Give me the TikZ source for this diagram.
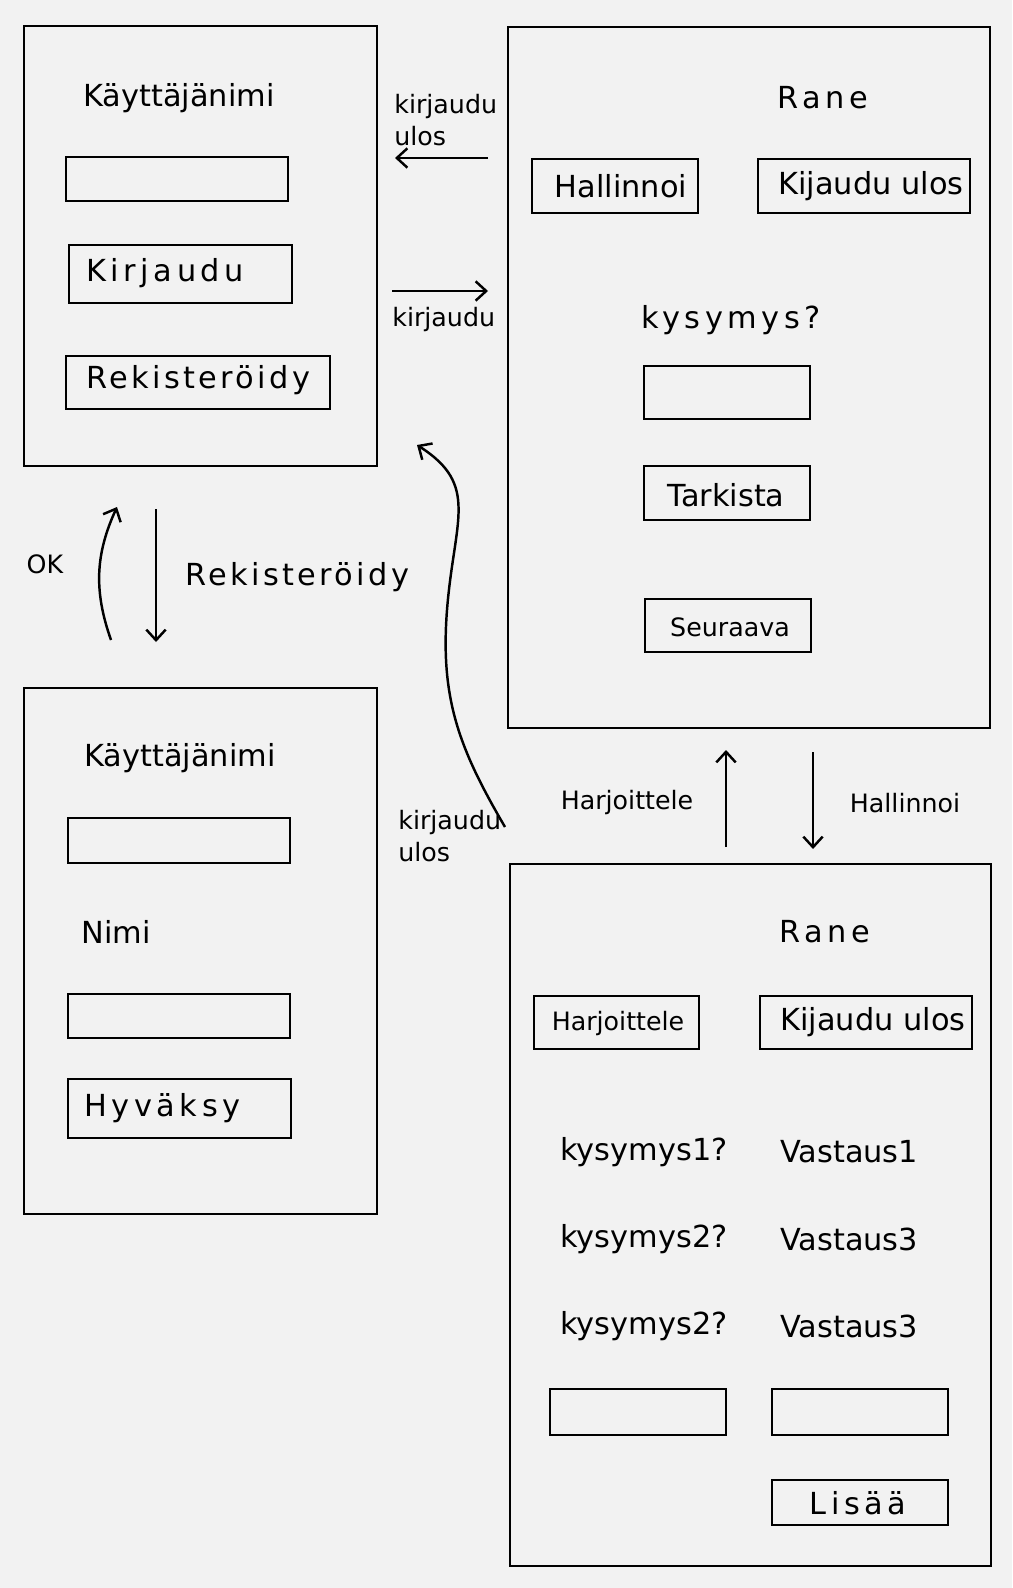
\documentclass[tikz,border=0pt]{standalone}
\usepackage{fontspec}
\newfontfamily\hand{DejaVu Sans}
\newfontfamily\wide[LetterSpace=15]{DejaVu Sans}
\newfontfamily\midwide[LetterSpace=11]{DejaVu Sans}
\usetikzlibrary{fit,arrows.meta}
\definecolor{paper}{RGB}{242,242,242}

\begin{document}
\begin{tikzpicture}[x=0.02cm,y=-0.02cm,
    frame/.style={draw,line width=1.6pt,inner sep=0pt},
    box/.style={draw,line width=1.6pt,inner sep=0pt},
    txt/.style={font=\hand\LARGE,inner sep=0pt},
    wtxt/.style={font=\wide\LARGE,inner sep=0pt},
    lbl/.style={font=\hand\Large,inner sep=0pt,align=left},
    arr/.style={line width=1.4pt,-{Straight Barb[length=6pt,width=11pt]}}]
\fill[paper] (0,0) rectangle (1012,1588);
\useasboundingbox (0,0) rectangle (1012,1588);

\node[frame,fit={(24,26) (377,466)}] (login) {};
\node[txt,anchor=west] (loginUser) at (83,98) {Käyttäjänimi};
\node[box,fit={(66,157) (288,201)}] (loginField) {};
\node[box,fit={(69,245) (292,303)}] (loginBtn) {};
\node[wtxt,anchor=west] at (86,273) {Kirjaudu};
\node[box,fit={(66,356) (330,409)}] (regBtn) {};
\node[wtxt,font=\midwide\LARGE,anchor=west] at (86,380) {Rekisteröidy};

\node[frame,fit={(508,27) (990,728)}] (quiz) {};
\node[wtxt] (quizUser) at (823,98) {Rane};
\node[box,fit={(532,159) (698,213)}] (quizAdmin) {};
\node[txt] at (621,186) {Hallinnoi};
\node[box,fit={(758,159) (970,213)}] (quizOut) {};
\node[txt] at (871,186) {Kijaudu ulos};
\node[wtxt] (question) at (731,320) {kysymys?};
\node[box,fit={(644,366) (810,419)}] (answerField) {};
\node[box,fit={(644,466) (810,520)}] (checkBtn) {};
\node[txt] at (726,495) {Tarkista};
\node[box,fit={(645,599) (811,652)}] (nextBtn) {};
\node[txt,font=\hand\Large] at (730,627) {Seuraava};

\node[frame,fit={(24,688) (377,1214)}] (register) {};
\node[txt,anchor=west] (regUser) at (84,758) {Käyttäjänimi};
\node[box,fit={(68,818) (290,863)}] (regUserField) {};
\node[txt,anchor=west] (regName) at (81,932) {Nimi};
\node[box,fit={(68,994) (290,1038)}] (regNameField) {};
\node[box,fit={(68,1079) (291,1138)}] (acceptBtn) {};
\node[wtxt,anchor=west] at (84,1108) {Hyväksy};

\node[frame,fit={(510,864) (991,1566)}] (admin) {};
\node[wtxt] (adminUser) at (825,932) {Rane};
\node[box,fit={(534,996) (699,1049)}] (adminPractice) {};
\node[txt,font=\hand\Large] at (618,1024) {Harjoittele};
\node[box,fit={(760,996) (972,1049)}] (adminOut) {};
\node[txt] at (873,1022) {Kijaudu ulos};
\node[txt,anchor=west] (q1) at (560,1152) {kysymys1?};
\node[txt,anchor=west] (a1) at (780,1152) {Vastaus1};
\node[txt,anchor=west] (q2) at (560,1239) {kysymys2?};
\node[txt,anchor=west] (a2) at (780,1239) {Vastaus3};
\node[txt,anchor=west] (q3) at (560,1326) {kysymys2?};
\node[txt,anchor=west] (a3) at (780,1326) {Vastaus3};
\node[box,fit={(550,1389) (726,1435)}] (newQuestion) {};
\node[box,fit={(772,1389) (948,1435)}] (newAnswer) {};
\node[box,fit={(772,1480) (948,1525)}] (addBtn) {};
\node[wtxt] at (858,1503) {Lisää};

\coordinate (outA) at (488,158);
\coordinate (outB) at (395,158);
\coordinate (inA) at (392,291);
\coordinate (inB) at (488,291);
\coordinate (okA) at (111,640);
\coordinate (okB) at (117,507);
\coordinate (regA) at (156,509);
\coordinate (regB) at (156,642);
\coordinate (backA) at (505,827);
\coordinate (backM) at (447,610);
\coordinate (backB) at (417,445);
\coordinate (practA) at (726,847);
\coordinate (practB) at (726,750);
\coordinate (adminA) at (813,752);
\coordinate (adminB) at (813,849);

\draw[arr] (outA) -- (outB);
\draw[arr] (inA) -- (inB);
\draw[arr] (okA) to[bend left=22] (okB);
\draw[arr] (regA) -- (regB);
\draw[arr] (backA) .. controls (460,750) and (440,700) .. (backM)
    .. controls (454,520) and (480,485) .. (backB);
\draw[arr] (practA) -- (practB);
\draw[arr] (adminA) -- (adminB);

\node[lbl,anchor=west] at (394,120) {kirjaudu\\ulos};
\node[lbl,anchor=west] at (392,320) {kirjaudu};
\node[lbl] at (45,564) {OK};
\node[wtxt,font=\midwide\LARGE,anchor=west] at (185,577) {Rekisteröidy};
\node[lbl,anchor=west] at (398,836) {kirjaudu\\ulos};
\node[lbl] at (627,803) {Harjoittele};
\node[lbl] at (905,803) {Hallinnoi};
\end{tikzpicture}
\end{document}
